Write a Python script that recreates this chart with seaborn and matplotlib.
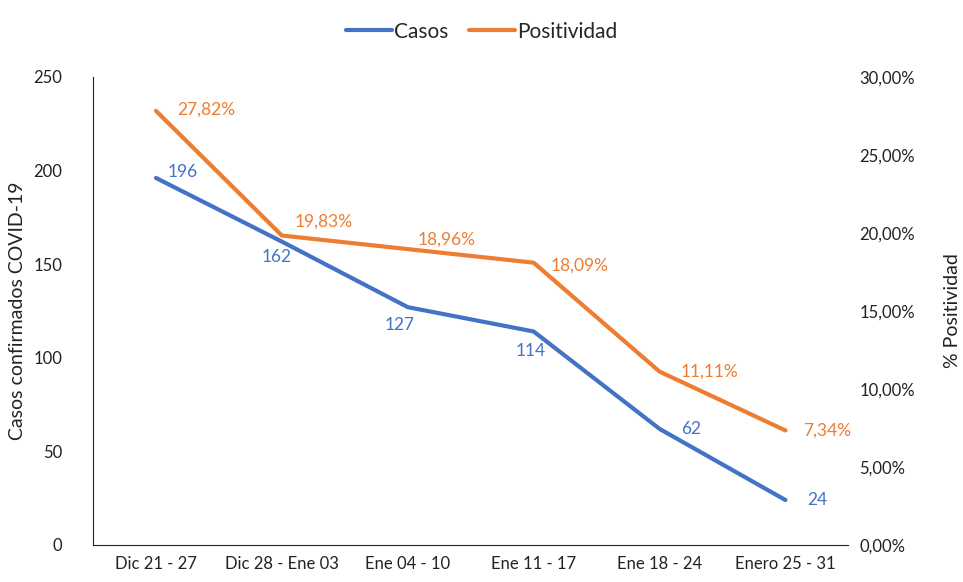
import pandas as pd
import numpy as np
import matplotlib.pyplot as plt
import seaborn as sns
from matplotlib.ticker import FuncFormatter

# data
semanas = ['Dic 21 - 27', 'Dic 28 - Ene 03', 'Ene 04 - 10', 'Ene 11 - 17', 'Ene 18 - 24', 'Enero 25 - 31']
casos = [196, 162, 127, 114, 62, 24]
positividad = [27.82, 19.83, 18.96, 18.09, 11.11, 7.34]

azul = '#4472C4'
naranja = '#ED7D31'

sns.set_style('white')
plt.rcParams['font.family'] = ['Lato', 'DejaVu Sans']

df = pd.DataFrame({'semana': semanas, 'casos': casos, 'positividad': positividad})
df['x'] = np.arange(len(df))

fig = plt.figure(figsize=(9.63, 5.82), dpi=100)
ax = fig.add_axes([0.0966, 0.0636, 0.7844, 0.8044])
ax2 = ax.twinx()

sns.lineplot(data=df, x='x', y='casos', ax=ax, color=azul, linewidth=3, label='Casos', legend=False)
sns.lineplot(data=df, x='x', y='positividad', ax=ax2, color=naranja, linewidth=3, label='Positividad', legend=False)

ax.set_xlim(-0.5, len(df) - 0.5)
ax.set_ylim(0, 250)
ax.set_yticks(range(0, 251, 50))
ax2.set_ylim(0, 30)
ax2.set_yticks(range(0, 31, 5))
ax2.yaxis.set_major_formatter(FuncFormatter(lambda v, p: f'{v:.2f}%'.replace('.', ',')))

ax.set_xticks(df['x'])
ax.set_xticklabels(semanas)
ax.set_xlabel('')
ax.set_ylabel('Casos confirmados COVID-19', fontsize=14, color='#222222', va='center')
ax.yaxis.set_label_coords(-0.1, 0.5)
ax2.set_ylabel('% Positividad', fontsize=14, color='#222222', rotation=90, va='center')
ax2.yaxis.set_label_coords(1.138, 0.5)

for a in (ax, ax2):
    a.tick_params(axis='both', length=0, labelsize=12, colors='#222222', pad=8)
    for s in a.spines.values():
        s.set_visible(False)
ax.spines['left'].set_visible(True)
ax.spines['bottom'].set_visible(True)
ax.spines['left'].set_color('#222222')
ax.spines['bottom'].set_color('#222222')
ax.tick_params(axis='y', pad=22)

# data labels (offsets in points)
off_casos = [(19, 4), (-4, -11), (-6, -13), (-2, -14), (23, 0), (23, 0)]
for xi, v, (dx, dy) in zip(df['x'], casos, off_casos):
    ax.annotate(str(v), (xi, v), xytext=(dx, dy), textcoords='offset points',
                ha='center', va='center', color=azul, fontsize=12.5)

off_pos = [(36, 1), (30, 10), (28, 7), (33, -2), (36, 0), (30, 0)]
for xi, v, (dx, dy) in zip(df['x'], positividad, off_pos):
    ax2.annotate(f'{v:.2f}%'.replace('.', ','), (xi, v), xytext=(dx, dy), textcoords='offset points',
                 ha='center', va='center', color=naranja, fontsize=12.5)

h1, l1 = ax.get_legend_handles_labels()
h2, l2 = ax2.get_legend_handles_labels()
fig.legend(h1 + h2, l1 + l2, loc='upper center', bbox_to_anchor=(0.5, 0.995), ncol=2,
           frameon=False, fontsize=15, handlelength=2.2, handletextpad=0.1, columnspacing=1.0)

fig.savefig('out.png', dpi=100)
